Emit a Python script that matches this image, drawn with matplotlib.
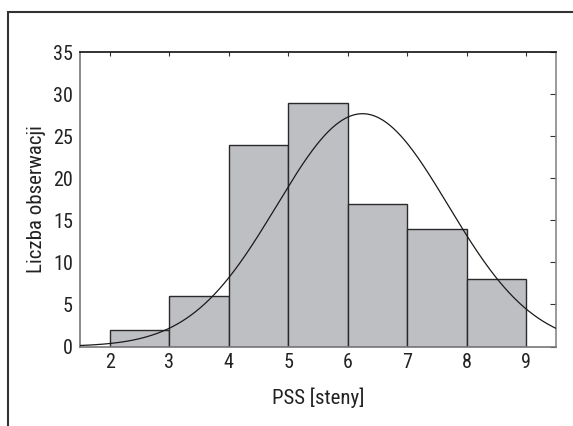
import numpy as np
import matplotlib
matplotlib.use("Agg")
import matplotlib.pyplot as plt
from matplotlib.patches import Rectangle

# histogram bins (PSS steny) and counts
bin_edges = [2, 3, 4, 5, 6, 7, 8, 9]
counts = [2, 6, 24, 29, 17, 14, 8]
# fitted normal curve
curve_mean = 6.25
curve_sd = 1.44
n_obs = sum(counts)

x_ticks = [2, 3, 4, 5, 6, 7, 8, 9]
y_ticks = [0, 5, 10, 15, 20, 25, 30, 35]

plt.rcParams['font.family'] = ['Roboto Condensed', 'DejaVu Sans']

fig = plt.figure(figsize=(5.73, 4.26), dpi=100)
ax = fig.add_axes([0.1396, 0.1866, 0.8304, 0.6904])

widths = np.diff(bin_edges)
ax.bar(bin_edges[:-1], counts, width=widths, align='edge',
       color='#bebfc3', edgecolor='#2a2a2a', linewidth=1.0, zorder=2)

xs = np.linspace(1.5, 9.5, 400)
ys = n_obs * 1.0 / (curve_sd * np.sqrt(2 * np.pi)) * np.exp(-(xs - curve_mean) ** 2 / (2 * curve_sd ** 2))
ax.plot(xs, ys, color='#1a1a1a', linewidth=0.9, zorder=3)

ax.set_xlim(1.5, 9.5)
ax.set_ylim(0, 35)
ax.set_xticks(x_ticks)
ax.set_yticks(y_ticks)
ax.tick_params(axis='both', labelsize=14.5, length=0, pad=5, labelcolor='#222222')

# inward ticks on top and right like the original
axt = ax.secondary_xaxis('top')
axt.set_xticks(x_ticks)
axt.tick_params(direction='in', length=3, labeltop=False, color='#333333')
axr = ax.secondary_yaxis('right')
axr.set_yticks(y_ticks)
axr.tick_params(direction='in', length=4, labelright=False, color='#333333')
axt.spines['top'].set_visible(False)
axr.spines['right'].set_visible(False)

ax.spines['top'].set_color('#111111')
ax.spines['left'].set_color('#777777')
ax.spines['bottom'].set_color('#777777')
ax.spines['right'].set_color('#888888')
for s in ax.spines.values():
    s.set_linewidth(1.2)

ax.set_xlabel('PSS [steny]', fontsize=15, labelpad=11, color='#222222')
ax.set_ylabel('Liczba obserwacji', fontsize=15, labelpad=5, color='#222222')

# outer frame around the figure
fig.patches.append(Rectangle((8 / 573, -0.05), 1.2, (426 - 12) / 426 + 0.05,
                             transform=fig.transFigure, fill=False,
                             edgecolor='#333333', linewidth=1.5))

fig.savefig('out.png', dpi=100)
